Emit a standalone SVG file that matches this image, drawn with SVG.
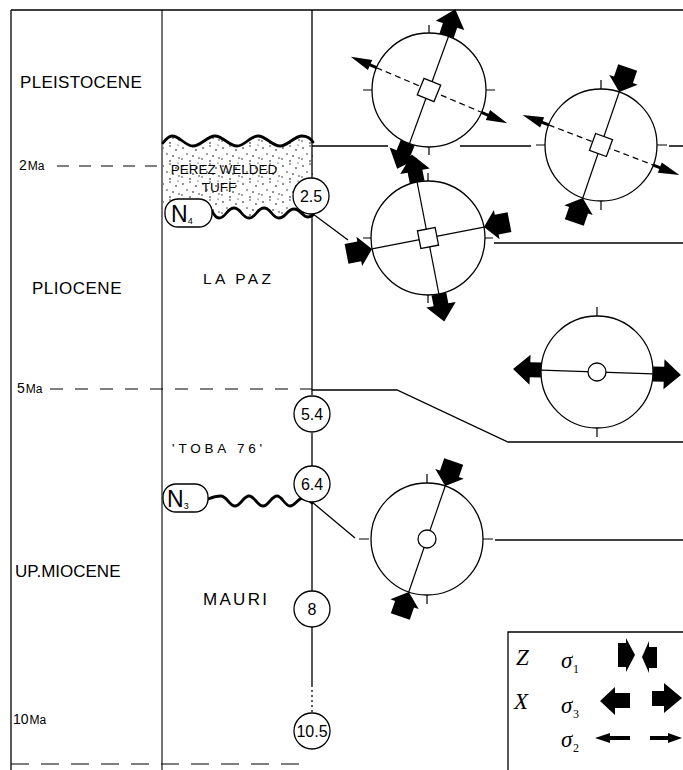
<svg xmlns="http://www.w3.org/2000/svg" xmlns:xlink="http://www.w3.org/1999/xlink" width="683" height="770" viewBox="0 0 683 770">
  <style>
    .ln{stroke:#000;stroke-width:1.3;fill:none}
    .thin{stroke:#000;stroke-width:1.1;fill:none}
    .wave{stroke:#000;stroke-width:2.8;fill:none;stroke-linecap:round}
    .net{fill:#fff;stroke:#000;stroke-width:1.3}
    .ax{stroke:#000;stroke-width:1.2;fill:none}
    .dsh{stroke-dasharray:6 4}
    .blk{fill:#000;stroke:none}
    .age{fill:#fff;stroke:#000;stroke-width:1.3}
    .t{font-family:'Liberation Sans',Arial,Helvetica,sans-serif;fill:#000}
    .era{font-size:17px}
    .num{font-size:16px;text-anchor:middle}
    .ser{font-family:'Liberation Serif','Times New Roman',serif;fill:#000}
  </style>
  <defs>
    <!-- sigma3: extension arrow, base on circle, pointing outward (+x) -->
    <path id="s3" d="M0,-7.5 H11 V-15 L28,0 L11,15 V7.5 H0 Z"/>
    <!-- sigma1: compression arrow, tip on circle, pointing inward (-x) -->
    <path id="s1" d="M0,0 L13,-15 V-10 H26 V10 H13 V15 Z"/>
    <!-- sigma2: thin arrow, pointing outward -->
    <path id="s2" d="M0,-1.5 H7 V-5.5 L28,0 L7,5.5 V1.5 H0 Z"/>
    <pattern id="stipple" width="20" height="18" patternUnits="userSpaceOnUse">
      <g fill="#000">
        <circle cx="3" cy="4" r="0.8"/><circle cx="10" cy="2" r="0.7"/>
        <circle cx="16" cy="6" r="0.8"/><circle cx="7" cy="10" r="0.7"/>
        <circle cx="13" cy="12" r="0.8"/><circle cx="19" cy="14" r="0.7"/>
        <circle cx="2" cy="15" r="0.7"/><circle cx="10" cy="17" r="0.8"/>
        <circle cx="18" cy="1" r="0.6"/>
      </g>
    </pattern>
  </defs>
  <rect width="683" height="770" fill="#fff"/>

  <!-- stippled welded tuff body -->
  <g id="perez-tuff">
    <path fill="url(#stipple)" d="M163,143 C166,139 169,136 172,136 C180,136 185,146 193,146 C201,146 207,136 215,136 C223,136 229,146 237,146 C245,146 250,136 258,136 C266,136 272,146 280,146 C288,146 294,136 302,136 C307,136 311,139 313,142 L313,215 C312,216 310,217 308,217 C302,217 301,209 294,209 C287,209 286,218 279,218 C272,218 271,208 264,208 C257,208 256,218 249,218 C242,218 241,208 234,208 C227,208 226,218 219,218 C216,218 214,215 212,211 L163,213 Z"/>
    <text class="t" x="224" y="174" font-size="13.5" text-anchor="middle">PEREZ WELDED</text>
    <text class="t" x="219" y="192" font-size="13.5" text-anchor="middle">TUFF</text>
  </g>

  <!-- frame and column rules -->
  <g id="frame">
    <path class="ln" d="M11,10 H683 M11,10 V770"/>
    <path class="thin" d="M162,10 V770"/>
    <path class="ln" d="M312,10 V178 M312,214 V395 M312,433 V466 M312,502 V591 M312,627 V685"/>
    <path class="ln" d="M312,685 V713" stroke-dasharray="2 3"/>
    <path class="thin" d="M57,166 H161" stroke-dasharray="12 10"/>
    <path class="thin" d="M50,389 H312" stroke-dasharray="13 12"/>
    <path class="thin" d="M11,764 H310" stroke-dasharray="18 12"/>
  </g>

  <!-- period and formation labels -->
  <g id="labels">
    <text class="t era" x="20" y="88" letter-spacing="0.3">PLEISTOCENE</text>
    <text class="t" x="19" y="170"><tspan font-size="14">2</tspan><tspan font-size="12" dx="1">Ma</tspan></text>
    <text class="t era" x="32" y="294" letter-spacing="0.5">PLIOCENE</text>
    <text class="t" x="203" y="284" font-size="15.5" letter-spacing="3.3">LA PAZ</text>
    <text class="t" x="17" y="393"><tspan font-size="14">5</tspan><tspan font-size="12" dx="1">Ma</tspan></text>
    <text class="t" x="172" y="453" font-size="13.5" letter-spacing="3.8">'TOBA 76'</text>
    <text class="t era" x="15" y="577">UP.MIOCENE</text>
    <text class="t" x="203" y="605" font-size="17" letter-spacing="2.3">MAURI</text>
    <text class="t" x="13" y="724"><tspan font-size="14">10</tspan><tspan font-size="12" dx="1">Ma</tspan></text>
  </g>

  <!-- unconformities -->
  <g id="unconformities">
    <path class="wave" d="M163,143 C166,139 169,136 172,136 C180,136 185,146 193,146 C201,146 207,136 215,136 C223,136 229,146 237,146 C245,146 250,136 258,136 C266,136 272,146 280,146 C288,146 294,136 302,136 C307,136 311,139 313,142"/>
    <path class="wave" d="M212,211 C214,215 216,218 219,218 C226,218 227,208 234,208 C241,208 242,218 249,218 C256,218 257,208 264,208 C271,208 272,218 279,218 C286,218 287,209 294,209 C301,209 302,217 308,217 C310,217 312,216 313,215"/>
    <path class="wave" d="M208,499 C213,497 217,496 221,496 C226.6,496 229.4,506 235,506 C240.6,506 243.4,496 249,496 C254.6,496 257.4,506 263,506 C268.6,506 271.4,496 277,496 C282,496 285,506 290,506 C295,506 298,498 303,498 C307,498 310,501 312,503"/>
  </g>

  <!-- boundaries and links between ages and stress states -->
  <g id="connectors">
    <path class="ln" d="M312,146 H388 M460,146 H531 M669,146 H683"/>
    <path class="ln" d="M313,214 L348,240"/>
    <path class="ln" d="M494,243 H683"/>
    <path class="ln" d="M312,390 H397 L508,442 H683"/>
    <path class="ln" d="M312,502 L355,538"/>
    <path class="ln" d="M495,540 H683"/>
  </g>

  <g id="n4">
    <rect class="age" x="165" y="199" width="47" height="28" rx="13"/>
    <text class="t" x="171" y="222" font-size="23">N<tspan font-size="9" dy="2">4</tspan></text>
  </g>
  <g id="n3">
    <rect class="age" x="163" y="484" width="45" height="28" rx="13"/>
    <text class="t" x="167" y="507" font-size="23">N<tspan font-size="9" dy="2">3</tspan></text>
  </g>

  <g id="age-2-5"><circle class="age" cx="311" cy="196" r="18"/><text class="t num" x="311" y="202">2.5</text></g>
  <g id="age-5-4"><circle class="age" cx="312" cy="414" r="18"/><text class="t num" x="312" y="420">5.4</text></g>
  <g id="age-6-4"><circle class="age" cx="312" cy="484" r="18"/><text class="t num" x="312" y="490">6.4</text></g>
  <g id="age-8"><circle class="age" cx="312" cy="609" r="18"/><text class="t num" x="312" y="615">8</text></g>
  <g id="age-10-5"><circle class="age" cx="312" cy="731" r="18"/><text class="t num" x="312" y="737" font-size="15">10.5</text></g>

  <!-- stereonets -->
  <g id="net-pleistocene-a" transform="translate(429,90)">
    <circle class="net" r="57"/>
    <path class="ax" d="M0,-57 V-65 M0,57 V65 M-57,0 H-66 M57,0 H66"/>
    <line class="ax" x1="-57" y1="0" x2="57" y2="0" transform="rotate(-70)"/>
    <line class="ax dsh" x1="-57" y1="0" x2="57" y2="0" transform="rotate(23)"/>
    <rect x="-9" y="-9" width="18" height="18" fill="#fff" stroke="#000" stroke-width="1.3" transform="rotate(22)"/>
    <use href="#s3" class="blk" transform="rotate(-72) translate(57,0)"/>
    <use href="#s3" class="blk" transform="rotate(112) translate(57,0)"/>
    <use href="#s2" class="blk" transform="rotate(23) translate(57,0)"/>
    <use href="#s2" class="blk" transform="rotate(203) translate(57,0)"/>
  </g>

  <g id="net-pleistocene-b" transform="translate(601,145)">
    <circle class="net" r="56"/>
    <path class="ax" d="M0,-56 V-65 M0,56 V65 M-56,0 H-65 M56,0 H66"/>
    <line class="ax" x1="-56" y1="0" x2="56" y2="0" transform="rotate(-71)"/>
    <line class="ax dsh" x1="-56" y1="0" x2="56" y2="0" transform="rotate(21)"/>
    <rect x="-9" y="-9" width="18" height="18" fill="#fff" stroke="#000" stroke-width="1.3" transform="rotate(20)"/>
    <use href="#s1" class="blk" transform="rotate(-71) translate(56,0)"/>
    <use href="#s1" class="blk" transform="rotate(109) translate(56,0)"/>
    <use href="#s2" class="blk" transform="rotate(21) translate(56,0)"/>
    <use href="#s2" class="blk" transform="rotate(201) translate(56,0)"/>
  </g>

  <g id="net-pliocene-a" transform="translate(428,238)">
    <circle class="net" r="57"/>
    <path class="ax" d="M0,-57 V-65 M0,57 V65 M-57,0 H-65 M57,0 H65"/>
    <line class="ax" x1="-57" y1="0" x2="57" y2="0" transform="rotate(-101)"/>
    <line class="ax" x1="-57" y1="0" x2="57" y2="0" transform="rotate(-11)"/>
    <rect x="-9" y="-9" width="18" height="18" fill="#fff" stroke="#000" stroke-width="1.3" transform="rotate(-11)"/>
    <use href="#s3" class="blk" transform="rotate(-101) translate(57,0)"/>
    <use href="#s3" class="blk" transform="rotate(79) translate(57,0)"/>
    <use href="#s1" class="blk" transform="rotate(-11) translate(57,0)"/>
    <use href="#s1" class="blk" transform="rotate(169) translate(57,0)"/>
  </g>

  <g id="net-pliocene-b" transform="translate(597,372)">
    <circle class="net" r="56"/>
    <path class="ax" d="M0,-56 V-65 M0,56 V65"/>
    <line class="ax" x1="-56" y1="0" x2="56" y2="0" transform="rotate(2)"/>
    <circle r="9" fill="#fff" stroke="#000" stroke-width="1.3"/>
    <use href="#s3" class="blk" transform="rotate(2) translate(56,0)"/>
    <use href="#s3" class="blk" transform="rotate(182) translate(56,0)"/>
  </g>

  <g id="net-miocene" transform="translate(427,539)">
    <circle class="net" r="56"/>
    <path class="ax" d="M0,-56 V-65 M0,56 V65 M-58,0 H-68 M56,0 H66"/>
    <line class="ax" x1="-56" y1="0" x2="56" y2="0" transform="rotate(-71)"/>
    <circle r="9" fill="#fff" stroke="#000" stroke-width="1.3"/>
    <use href="#s1" class="blk" transform="rotate(-71) translate(56,0)"/>
    <use href="#s1" class="blk" transform="rotate(109) translate(56,0)"/>
  </g>

  <!-- key to the stress symbols -->
  <g id="legend">
    <path class="ln" d="M508,770 V632 H683"/>
    <text class="ser" x="516" y="665" font-size="23" font-style="italic">Z</text>
    <text class="ser" x="561" y="668" font-size="23" font-style="italic">σ</text>
    <text class="ser" x="573" y="673" font-size="12">1</text>
    <text class="ser" x="514" y="709" font-size="23" font-style="italic">X</text>
    <text class="ser" x="561" y="713" font-size="23" font-style="italic">σ</text>
    <text class="ser" x="573" y="718" font-size="12">3</text>
    <text class="ser" x="561" y="747" font-size="23" font-style="italic">σ</text>
    <text class="ser" x="573" y="752" font-size="12">2</text>
    <path class="blk" d="M618,643 H626 V638 L635,655 L626,672 V667 H618 Z"/>
    <path class="blk" d="M657,647 H649 V641 L642,657 L649,673 V668 H657 Z"/>
    <path class="blk" d="M630,693 H615 V687 L600,701 L615,715 V708 H630 Z"/>
    <path class="blk" d="M652,691 H664 V683 L682,698 L664,713 V706 H652 Z"/>
    <path class="blk" d="M630,736 H610 V733 L595,738 L610,743 V740 H630 Z"/>
    <path class="blk" d="M650,736 H668 V733 L682,738 L668,743 V740 H650 Z"/>
  </g>
</svg>
